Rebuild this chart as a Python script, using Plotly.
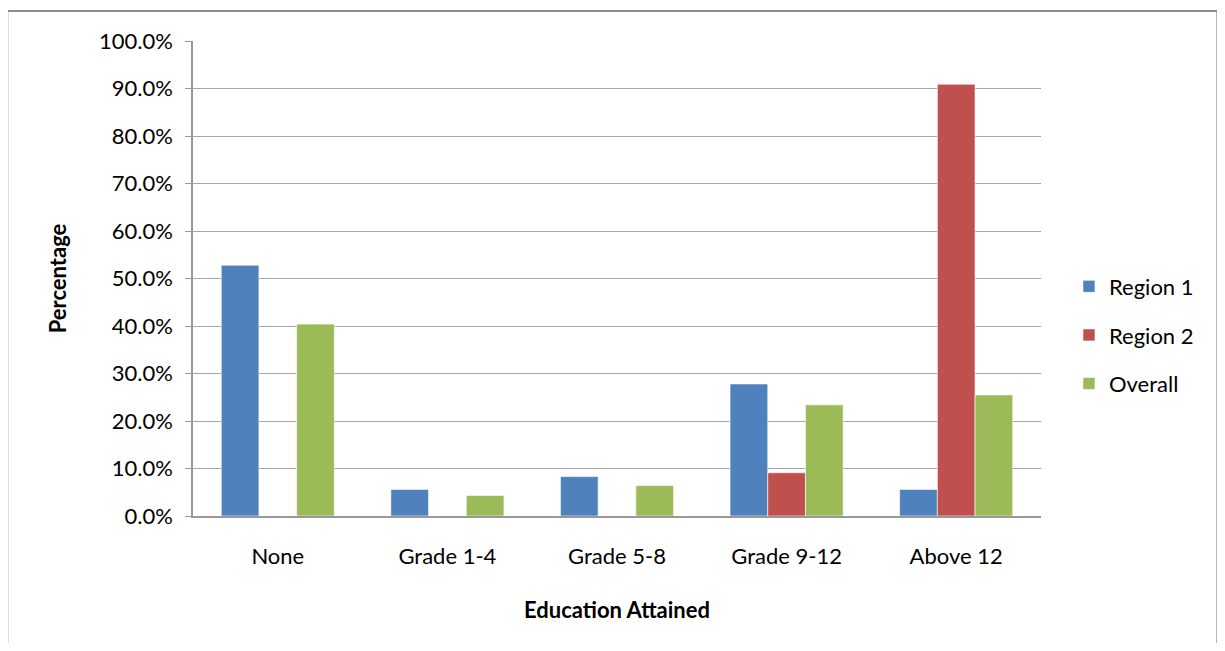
import plotly.graph_objects as go

categories = ["None", "Grade 1-4", "Grade 5-8", "Grade 9-12", "Above 12"]
region1 = [52.8, 5.6, 8.3, 27.8, 5.6]
region2 = [0.0, 0.0, 0.0, 9.1, 90.9]
overall = [40.4, 4.3, 6.4, 23.4, 25.5]
tick_vals = [0, 10, 20, 30, 40, 50, 60, 70, 80, 90, 100]
tick_text = ["0.0%", "10.0%", "20.0%", "30.0%", "40.0%", "50.0%", "60.0%", "70.0%", "80.0%", "90.0%", "100.0%"]

FONT = "Lato, 'Open Sans', sans-serif"

fig = go.Figure()
series = [("Region 1", region1, "#4F81BD"), ("Region 2", region2, "#C0504D"), ("Overall", overall, "#9BBB59")]
for name, vals, col in series:
    fig.add_trace(go.Bar(
        x=categories, y=vals, name=name, legendgroup=name,
        marker=dict(color=col, line=dict(color="rgba(255,255,255,0.6)", width=1)),
    ))

fig.update_layout(
    width=1225, height=635,
    margin=dict(l=185, r=192, t=33, b=127),
    paper_bgcolor="white", plot_bgcolor="white",
    barmode="group", bargap=0.333, bargroupgap=0,
    font=dict(family=FONT, size=22, color="#000000"),
    legend=dict(x=1.033, xanchor="left", y=0.381, yanchor="middle",
                font=dict(size=22), tracegroupgap=17, bgcolor="rgba(0,0,0,0)",
                itemwidth=30),
    xaxis=dict(
        showline=True, linecolor="#999999", linewidth=1.5,
        ticks="", tickfont=dict(size=22), ticklabelstandoff=20,
        title=dict(text="<b>Education Attained</b>", font=dict(size=22), standoff=34),
    ),
    yaxis=dict(
        range=[0, 100], tickvals=tick_vals, ticktext=tick_text,
        showgrid=True, gridcolor="#A6A6A6", gridwidth=1,
        showline=True, linecolor="#999999", linewidth=1.5,
        ticks="outside", ticklen=6, tickcolor="#999999",
        tickfont=dict(size=22), ticklabelstandoff=8,
        zeroline=False,
        title=dict(text="<b>Percentage</b>", font=dict(size=22), standoff=26),
    ),
    shapes=[dict(type="rect", xref="paper", yref="paper",
                 x0=-0.219, x1=1.208, y0=-0.40, y1=1.063,
                 line=dict(color="#8C8C8C", width=2), fillcolor="rgba(0,0,0,0)", layer="below")],
)

fig.write_html("out.html")
